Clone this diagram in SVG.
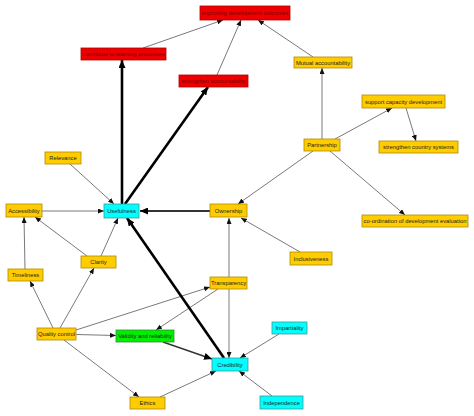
<svg xmlns="http://www.w3.org/2000/svg" width="474" height="416" viewBox="0 0 474 416">
<style>
text{font-family:"Liberation Sans",Arial,sans-serif;font-size:5.8px;text-anchor:middle;fill:#222}
.y rect{fill:#ffcc00;stroke:#b08a00;stroke-width:0.8}
.c rect{fill:#00ffff;stroke:#3a9a9a;stroke-width:0.8}
.g rect{fill:#00ee00;stroke:#2f8f2f;stroke-width:0.8}
.r rect{fill:#ee0000;stroke:#b00000;stroke-width:0.8}
.r text{fill:#7a0000}
.e{stroke:#6a6a6a;stroke-width:0.9;fill:none;marker-end:url(#a)}
.t{stroke:#000;stroke-width:2.6;fill:none;marker-end:url(#b)}
.m{stroke:#333;stroke-width:1.8;fill:none;marker-end:url(#b)}
</style>
<defs>
<marker id="a" markerUnits="userSpaceOnUse" markerWidth="6" markerHeight="5" refX="6" refY="2.5" orient="auto"><path d="M0,0 L6,2.5 L0,5 z" fill="#111"/></marker>
<marker id="b" markerUnits="userSpaceOnUse" markerWidth="8" markerHeight="7" refX="8" refY="3.5" orient="auto"><path d="M0,0 L8,3.5 L0,7 z" fill="#000"/></marker>
</defs>
<rect width="474" height="416" fill="#fff"/>
<g id="connectors">
<line class="e" x1="143" y1="48" x2="223" y2="20"/>
<line class="e" x1="217" y1="75" x2="241" y2="20"/>
<line class="e" x1="313" y1="57" x2="258" y2="20"/>
<line class="t" x1="122" y1="204" x2="122" y2="60"/>
<line class="t" x1="125" y1="204" x2="208" y2="87"/>
<line class="e" x1="322" y1="139" x2="322" y2="68"/>
<line class="e" x1="335" y1="139" x2="392" y2="108"/>
<line class="e" x1="406" y1="108" x2="416" y2="141"/>
<line class="e" x1="313" y1="151" x2="238" y2="204"/>
<line class="e" x1="330" y1="151" x2="405" y2="215"/>
<line class="e" x1="300" y1="252" x2="241" y2="218"/>
<line class="m" x1="210" y1="211" x2="140" y2="211"/>
<line class="e" x1="70" y1="164" x2="114" y2="204"/>
<line class="e" x1="42" y1="211" x2="104" y2="211"/>
<line class="e" x1="101" y1="256" x2="118" y2="218"/>
<line class="e" x1="87" y1="256" x2="35" y2="217"/>
<line class="e" x1="25" y1="269" x2="24" y2="217"/>
<line class="e" x1="53" y1="328" x2="30" y2="281"/>
<line class="e" x1="60" y1="328" x2="94" y2="268"/>
<line class="e" x1="76" y1="330" x2="210" y2="287"/>
<line class="e" x1="76" y1="334.5" x2="116" y2="335.5"/>
<line class="e" x1="64" y1="340" x2="139" y2="397"/>
<line class="e" x1="218" y1="289" x2="156" y2="330"/>
<line class="e" x1="229" y1="277" x2="229" y2="218"/>
<line class="e" style="stroke:#aaa;stroke-width:1.5" x1="229" y1="289" x2="229" y2="358"/>
<line class="t" x1="224" y1="358" x2="127" y2="218"/>
<line class="m" style="stroke-width:1.4" x1="163" y1="342" x2="212" y2="359"/>
<line class="e" x1="160" y1="397" x2="216" y2="371"/>
<line class="e" x1="279" y1="334" x2="240" y2="358"/>
<line class="e" x1="272" y1="396" x2="239" y2="371"/>
</g>
<g id="improving" class="r"><rect x="200" y="6" width="90" height="14"/><text x="245" y="15">improving development outcomes</text></g>
<g id="contribute" class="r"><rect x="81" y="48" width="85" height="12"/><text x="123.5" y="56">contribute to learning processes</text></g>
<g id="strengthen-accountability" class="r"><rect x="179" y="75" width="69" height="12"/><text x="213.5" y="83">strengthen accountability</text></g>
<g id="mutual" class="y"><rect x="294" y="57" width="58" height="11"/><text x="323" y="64.5">Mutual accountability</text></g>
<g id="support" class="y"><rect x="362" y="95" width="83" height="13"/><text x="403.5" y="103.5">support capacity development</text></g>
<g id="country" class="y"><rect x="379" y="141" width="79" height="12"/><text x="418.5" y="149">strengthen country systems</text></g>
<g id="partnership" class="y"><rect x="304" y="139" width="36" height="12"/><text x="322" y="147">Partnership</text></g>
<g id="coordination" class="y"><rect x="362" y="215" width="106" height="12"/><text x="415" y="223">co-ordination of development evaluation</text></g>
<g id="inclusiveness" class="y"><rect x="290" y="252" width="42" height="13"/><text x="311" y="260.5">Inclusiveness</text></g>
<g id="ownership" class="y"><rect x="210" y="204" width="37" height="13"/><text x="228.5" y="212.5">Ownership</text></g>
<g id="usefulness" class="c"><rect x="104" y="204" width="35" height="14"/><text x="121.5" y="213">Usefulness</text></g>
<g id="relevance" class="y"><rect x="45" y="152" width="36" height="12"/><text x="63" y="160">Relevance</text></g>
<g id="accessibility" class="y"><rect x="6" y="204" width="36" height="13"/><text x="24" y="212.5">Accessibility</text></g>
<g id="clarity" class="y"><rect x="81" y="256" width="35" height="12"/><text x="98.5" y="264">Clarity</text></g>
<g id="timeliness" class="y"><rect x="8" y="269" width="35" height="12"/><text x="25.5" y="277">Timeliness</text></g>
<g id="transparency" class="y"><rect x="210" y="277" width="37" height="12"/><text x="228.5" y="285">Transparency</text></g>
<g id="quality" class="y"><rect x="37" y="328" width="39" height="12"/><text x="56.5" y="336">Quality control</text></g>
<g id="validity" class="g"><rect x="116" y="330" width="58" height="12"/><text x="145" y="338">Validity and reliability</text></g>
<g id="credibility" class="c"><rect x="212" y="358" width="36" height="13"/><text x="230" y="366.5">Credibility</text></g>
<g id="impartiality" class="c"><rect x="272" y="322" width="35" height="12"/><text x="289.5" y="330">Impartiality</text></g>
<g id="independence" class="c"><rect x="260" y="396" width="43" height="13"/><text x="281.5" y="404.5">Independence</text></g>
<g id="ethics" class="y"><rect x="130" y="397" width="35" height="12"/><text x="147.5" y="405">Ethics</text></g>
</svg>
